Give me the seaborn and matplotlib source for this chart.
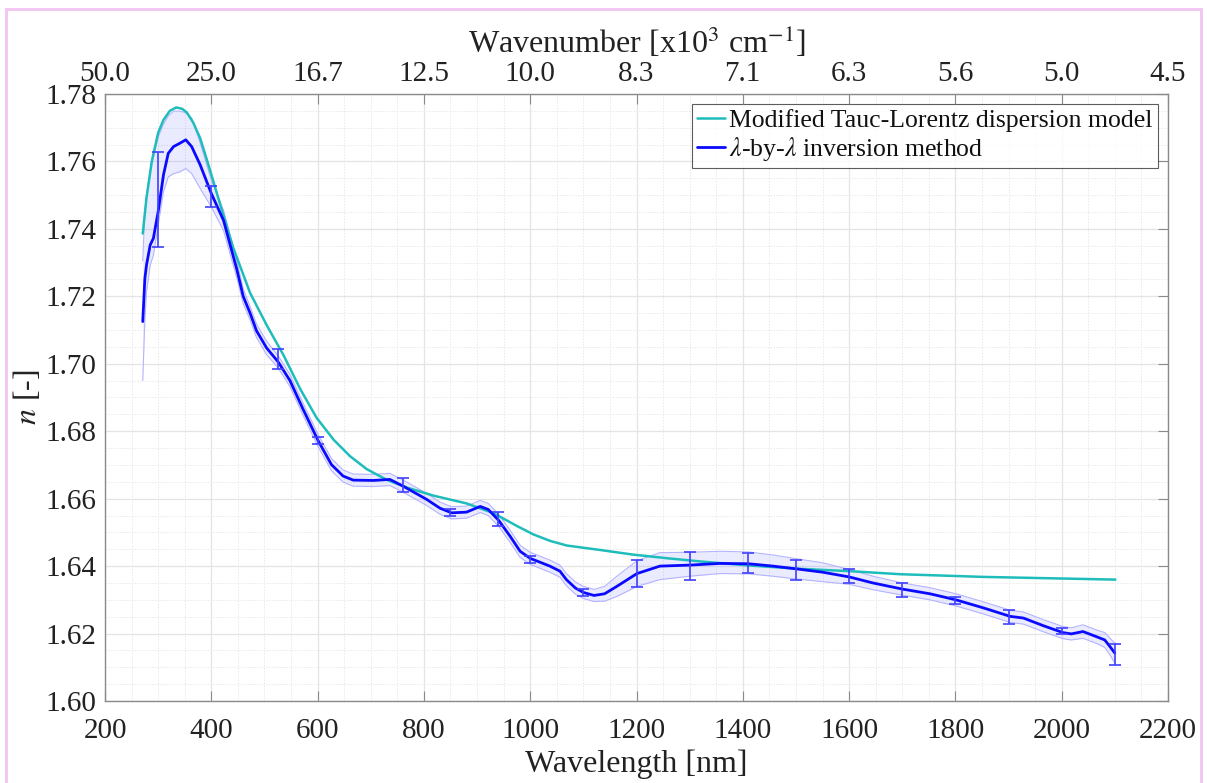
import numpy as np
import pandas as pd
import matplotlib
matplotlib.use("Agg")
import matplotlib.pyplot as plt
import seaborn as sns
from matplotlib.patches import Rectangle
from matplotlib.ticker import MultipleLocator

# ---------------- data ----------------
# Modified Tauc-Lorentz dispersion model
lam_model = [271, 278, 288, 300, 310, 322, 334, 345, 354, 366, 379, 392, 404, 420, 441,
             473, 504, 536, 567, 598, 630, 661, 692, 730, 768, 818, 880, 931, 975, 1006,
             1037, 1069, 1131, 1194, 1260, 1319, 1410, 1507, 1602, 1696, 1853, 2101]
n_model = [1.7386, 1.7491, 1.7600, 1.7685, 1.7723, 1.7750, 1.7760, 1.7756, 1.7745,
           1.7715, 1.7669, 1.7603, 1.7540, 1.7455, 1.7345, 1.7210, 1.7115, 1.7025,
           1.6926, 1.6840, 1.6775, 1.6726, 1.6688, 1.6656, 1.6633, 1.6609, 1.6586,
           1.6557, 1.6519, 1.6494, 1.6475, 1.6461, 1.6448, 1.6434, 1.6423, 1.6414,
           1.6402, 1.6392, 1.6385, 1.6376, 1.6368, 1.6360]

# lambda-by-lambda inversion method
lam_inv = [271, 275, 278, 285, 291, 300, 310, 319, 329, 341, 352, 363, 379, 400, 423,
           435, 448, 460, 473, 485, 504, 526, 548, 573, 601, 626, 648, 667, 705, 736,
           761, 805, 830, 852, 880, 906, 921, 941, 962, 981, 1000, 1037, 1056, 1068,
           1085, 1100, 1120, 1140, 1163, 1201, 1244, 1300, 1357, 1411, 1457, 1500,
           1550, 1600, 1645, 1700, 1752, 1801, 1853, 1903, 1928, 1966, 2002, 2018,
           2040, 2065, 2081, 2091, 2100]
n_inv = [1.7125, 1.7253, 1.7292, 1.7352, 1.7372, 1.7451, 1.7560, 1.7624, 1.7644,
         1.7654, 1.7664, 1.7644, 1.7590, 1.7505, 1.7425, 1.7355, 1.7280, 1.7200,
         1.7150, 1.7098, 1.7047, 1.7005, 1.6950, 1.6864, 1.6772, 1.6701, 1.6667,
         1.6655, 1.6654, 1.6657, 1.6637, 1.6598, 1.6572, 1.6558, 1.6560, 1.6577,
         1.6568, 1.6535, 1.6489, 1.6444, 1.6423, 1.6400, 1.6385, 1.6360, 1.6335,
         1.6322, 1.6313, 1.6318, 1.6340, 1.6378, 1.6400, 1.6403, 1.6408, 1.6407,
         1.6400, 1.6392, 1.6382, 1.6368, 1.6350, 1.6332, 1.6318, 1.6300, 1.6276,
         1.6251, 1.6246, 1.6223, 1.6203, 1.6199, 1.6206, 1.6191, 1.6181, 1.6161,
         1.6142]
# uncertainty band: distance above / below the curve
band_up = ([0.018, 0.020, 0.021, 0.022, 0.024, 0.022, 0.015, 0.011, 0.0105, 0.0095,
            0.008, 0.0085, 0.0065, 0.004, 0.003, 0.0028, 0.0025, 0.0022,
            0.002, 0.002, 0.002]
           + [0.0018] * 26
           + [0.0022, 0.003, 0.0038, 0.004, 0.0038, 0.0036, 0.0035, 0.0033, 0.003,
              0.0028, 0.0022, 0.002]
           + [0.0018] * 9
           + [0.002, 0.002, 0.0022, 0.0025, 0.003])
band_dn = ([0.0175, 0.012, 0.008, 0.006, 0.005, 0.004, 0.005, 0.007, 0.008, 0.0085,
            0.0085, 0.008, 0.007, 0.004, 0.003, 0.0028, 0.0025, 0.0022,
            0.002, 0.002, 0.002]
           + [0.0018] * 26
           + [0.0022, 0.003, 0.0038, 0.004, 0.0033, 0.003, 0.003, 0.003, 0.003,
              0.0028, 0.0022, 0.002]
           + [0.0018] * 9
           + [0.002, 0.002, 0.0022, 0.0025, 0.003])

# error bars
err_lam = [300, 400, 525, 600, 760, 850, 940, 1000, 1100, 1200, 1300, 1410, 1500,
           1600, 1700, 1800, 1900, 2000, 2100]
err_n = [1.7486, 1.7496, 1.7013, 1.6772, 1.6640, 1.6559, 1.6540, 1.6420, 1.6322,
         1.6378, 1.6400, 1.6410, 1.6389, 1.6370, 1.6329, 1.6299, 1.6249, 1.6207,
         1.6137]
err_half = [0.0141, 0.0030, 0.0030, 0.0010, 0.0020, 0.0009, 0.0020, 0.0010, 0.0010,
            0.0040, 0.0042, 0.0030, 0.0030, 0.0020, 0.0020, 0.0010, 0.0020, 0.0009,
            0.0031]

x_ticks = [200, 400, 600, 800, 1000, 1200, 1400, 1600, 1800, 2000, 2200]
top_labels = ["50.0", "25.0", "16.7", "12.5", "10.0", "8.3", "7.1", "6.3", "5.6",
              "5.0", "4.5"]
y_ticks = [1.60, 1.62, 1.64, 1.66, 1.68, 1.70, 1.72, 1.74, 1.76, 1.78]

# ---------------- style ----------------
sns.set_theme(style="white")
plt.rcParams["font.family"] = ["Liberation Serif", "DejaVu Serif"]
plt.rcParams["mathtext.fontset"] = "stix"

CYAN = "#1fbcbc"
BLUE = "#0a0aff"
TXT = "#222222"

fig = plt.figure(figsize=(12.07, 7.83), dpi=100)
ax = fig.add_axes([0.087, 0.1047, 0.8807, 0.7753])

df_model = pd.DataFrame({"lam": lam_model, "n": n_model})
df_inv = pd.DataFrame({"lam": lam_inv, "n": n_inv, "up": band_up, "dn": band_dn})
lo = df_inv["n"] - df_inv["dn"]
hi = df_inv["n"] + df_inv["up"]

ax.fill_between(df_inv["lam"], lo, hi, color=(0.0, 0.0, 1.0, 0.08), lw=0, zorder=2)
ax.plot(df_inv["lam"], lo, color="#b4b4ff", lw=0.8, zorder=2)
ax.plot(df_inv["lam"], hi, color="#b4b4ff", lw=0.8, zorder=2)

sns.lineplot(data=df_model, x="lam", y="n", ax=ax, color=CYAN, lw=1.8, sort=False,
             label="Modified Tauc-Lorentz dispersion model", zorder=3)
sns.lineplot(data=df_inv, x="lam", y="n", ax=ax, color=BLUE, lw=2.0, sort=False,
             label=r"$\lambda$-by-$\lambda$ inversion method", zorder=4)
ax.errorbar(err_lam, err_n, yerr=err_half, fmt="none", ecolor="#4040ff", elinewidth=1.2,
            capsize=4, capthick=1.2, zorder=5)

ax.set_xlim(200, 2200)
ax.set_ylim(1.60, 1.78)
ax.set_xticks(x_ticks)
ax.set_yticks(y_ticks)
ax.set_yticklabels([f"{v:.2f}" for v in y_ticks])
ax.xaxis.set_minor_locator(MultipleLocator(50))
ax.yaxis.set_minor_locator(MultipleLocator(0.005))
ax.grid(which="major", color="#e4e4e4", lw=0.9, ls="-", zorder=0)
ax.grid(which="minor", color="#e9e9e9", lw=0.7, ls=(0, (1.5, 1.5)), zorder=0)
ax.set_axisbelow(True)
ax.tick_params(which="major", direction="in", length=7, width=0.8, color="#8a8a8a",
               labelsize=21, top=False, right=True, labelcolor=TXT)
ax.tick_params(axis="x", which="major", pad=12)
ax.tick_params(axis="y", which="major", pad=6)
ax.tick_params(which="minor", length=0)
for s in ax.spines.values():
    s.set_color("#8a8a8a")
    s.set_linewidth(1.0)

ax.set_xlabel("Wavelength [nm]", fontsize=23, labelpad=4, color=TXT)
ax.set_ylabel("$n$ [-]", fontsize=23, labelpad=2, color=TXT)

ax2 = ax.twiny()
ax2.set_xlim(ax.get_xlim())
ax2.set_xticks(x_ticks)
ax2.set_xticklabels(top_labels)
ax2.tick_params(direction="in", length=7, width=0.8, color="#8a8a8a", labelsize=21,
                pad=5, labelcolor=TXT)
ax2.set_xlabel(r"Wavenumber [x10$^3$ cm$^{-1}$]", fontsize=23, labelpad=6, color=TXT)
for s in ax2.spines.values():
    s.set_visible(False)

leg = ax.legend(loc="upper right", fontsize=18.5, frameon=True, fancybox=False,
                edgecolor="#333333", handlelength=1.1, handletextpad=0.15,
                borderpad=0.2, labelspacing=0.1, borderaxespad=0.4)
leg.get_frame().set_linewidth(0.8)
for t in leg.get_texts():
    t.set_color("#111111")

fig.patches.append(Rectangle((0.005, -0.02), 0.99, 1.0085, transform=fig.transFigure,
                             fill=False, edgecolor="#f2c4f2", lw=2.0))

fig.savefig("out.png", dpi=100)
